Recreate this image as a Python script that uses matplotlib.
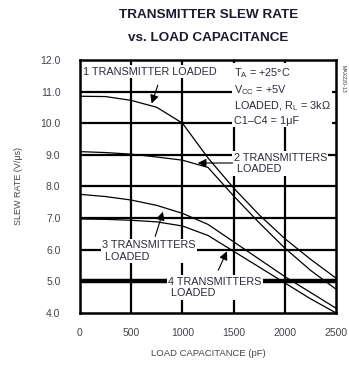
import numpy as np
import matplotlib
matplotlib.use('Agg')
import matplotlib.pyplot as plt

plt.rcParams['font.family'] = ['Liberation Sans', 'DejaVu Sans']
plt.rcParams['mathtext.fontset'] = 'custom'
plt.rcParams['mathtext.rm'] = 'Liberation Sans'
plt.rcParams['mathtext.it'] = 'Liberation Sans'

# slew rate (V/us) vs load capacitance (pF)
load_pf = [0, 250, 500, 750, 1000, 1250, 1500, 1750, 2000, 2250, 2500]
slew_1tx = [10.85, 10.84, 10.72, 10.5, 10.0, 8.9, 7.95, 7.1, 6.35, 5.7, 5.1]
slew_2tx = [9.1, 9.07, 9.02, 8.93, 8.83, 8.6, 7.7, 6.85, 6.05, 5.35, 4.75]
slew_3tx = [7.75, 7.68, 7.57, 7.4, 7.15, 6.8, 6.25, 5.7, 5.15, 4.65, 4.15]
slew_4tx = [6.97, 6.96, 6.93, 6.88, 6.75, 6.45, 5.95, 5.45, 4.95, 4.45, 4.0]

x_ticks = [0, 500, 1000, 1500, 2000, 2500]
y_ticks = [4.0, 5.0, 6.0, 7.0, 8.0, 9.0, 10.0, 11.0, 12.0]

fig = plt.figure(figsize=(3.49, 3.65), dpi=100)
ax = fig.add_axes([0.229, 0.1425, 0.734, 0.6935])

# grid: plain lines, the 5.0 V/us line drawn heavy
for x in x_ticks[1:-1]:
    ax.axvline(x, color='black', lw=1.6, zorder=1)
for y in y_ticks[1:-1]:
    ax.axhline(y, color='black', lw=3.2 if y == 5.0 else 1.6, zorder=1)

for s in (slew_1tx, slew_2tx, slew_3tx, slew_4tx):
    ax.plot(load_pf, s, color='black', lw=0.9, zorder=2)

ax.set_xlim(0, 2500)
ax.set_ylim(4, 12)
ax.set_xticks(x_ticks)
ax.set_yticks(y_ticks)
ax.set_yticklabels([f'{v:.1f}' for v in y_ticks])
ax.tick_params(length=0, labelsize=7.5, labelcolor='#444450')
ax.tick_params(axis='y', pad=14)
ax.tick_params(axis='x', pad=11)
for sp in ax.spines.values():
    sp.set_linewidth(1.8)

ax.set_xlabel('LOAD CAPACITANCE (pF)', fontsize=6.8, color='#444450', labelpad=8)
ax.set_ylabel('SLEW RATE (V/μs)', fontsize=6.5, color='#444450', labelpad=12)

box = dict(facecolor='white', edgecolor='none', pad=1.0)
tcol = '#2a2a3a'
fs = 7.8
arrow = dict(arrowstyle='-|>,head_width=0.25,head_length=0.5', color='black', lw=0.8,
             shrinkA=0, shrinkB=0)

ax.text(30, 11.62, '1 TRANSMITTER LOADED', fontsize=fs, color=tcol, va='center',
        bbox=box, zorder=4)
ax.annotate('', xy=(700, 10.62), xytext=(760, 11.2), arrowprops=arrow, zorder=5)

ax.text(1500, 11.8, 'T$_A$ = +25°C\nV$_{CC}$ = +5V\nLOADED, R$_L$ = 3kΩ\nC1–C4 = 1μF',
        fontsize=fs, color=tcol, va='top', ha='left', linespacing=1.3,
        bbox=box, zorder=4)

ax.text(1500, 8.72, '2 TRANSMITTERS\n LOADED', fontsize=fs, color=tcol, va='center',
        ha='left', linespacing=1.2, bbox=box, zorder=4)
ax.annotate('', xy=(1150, 8.74), xytext=(1490, 8.74), arrowprops=arrow, zorder=5)

ax.text(220, 5.95, '3 TRANSMITTERS\n LOADED', fontsize=fs, color=tcol, va='center',
        ha='left', linespacing=1.2, bbox=box, zorder=4)
ax.annotate('', xy=(810, 7.2), xytext=(735, 6.42), arrowprops=arrow, zorder=5)

ax.text(860, 4.8, '4 TRANSMITTERS\n LOADED', fontsize=fs, color=tcol, va='center',
        ha='left', linespacing=1.2, bbox=box, zorder=4)
ax.annotate('', xy=(1435, 5.95), xytext=(1350, 5.35), arrowprops=arrow, zorder=5)

fig.text(0.983, 0.785, 'MAX220-13', rotation=270, fontsize=3.8, color='#333344',
         ha='center', va='center')

fig.text(0.597, 0.958, 'TRANSMITTER SLEW RATE', fontsize=9.7, fontweight='bold',
         color='#1c1c30', ha='center', va='center')
fig.text(0.597, 0.895, 'vs. LOAD CAPACITANCE', fontsize=9.7, fontweight='bold',
         color='#1c1c30', ha='center', va='center')

fig.savefig('out.png', dpi=100)
